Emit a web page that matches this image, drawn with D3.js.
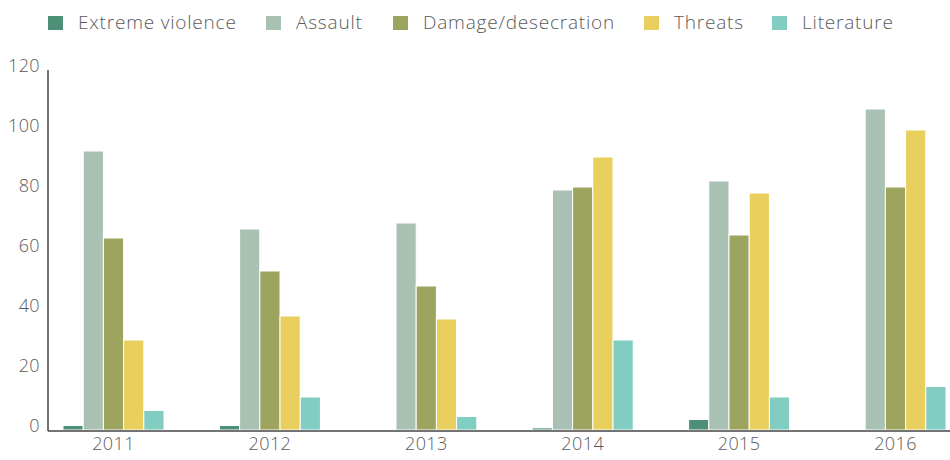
<!DOCTYPE html>
<html>
<head>
<meta charset="utf-8">
<script src="https://cdn.jsdelivr.net/npm/d3@7"></script>
<style>
  body { margin: 0; background: #fff; }
  text { font-family: "Open Sans", Lato, sans-serif; font-weight: 300; fill: #5a5a5a; letter-spacing: 0.4px; }
</style>
</head>
<body>
<script>
var width = 950,
    height = 460;

var years = ["2011", "2012", "2013", "2014", "2015", "2016"];
var series = ["Extreme violence", "Assault", "Damage/desecration", "Threats", "Literature"];
var colors = ["#4d8f77", "#a9c1b3", "#9da45f", "#e9cf5e", "#82cdc1"];

// values per series, one per year
var extremeViolence = [1.5, 1.5, 0, 0.7, 3.5, 0];
var assault = [93, 67, 69, 80, 83, 107];
var damage = [64, 53, 48, 81, 65, 81];
var threats = [30, 38, 37, 91, 79, 100];
var literature = [6.5, 11, 4.5, 30, 11, 14.5];

var yTicks = [0, 20, 40, 60, 80, 100, 120];

var values = [extremeViolence, assault, damage, threats, literature];

var xScale = d3.scaleBand()
    .domain(years)
    .range([63, 946])
    .paddingInner(0.354);

var subScale = d3.scaleBand()
    .domain(d3.range(series.length))
    .range([0, xScale.bandwidth()]);

var yScale = d3.scaleLinear()
    .domain([0, 120])
    .range([430, 70]);

var svg = d3.select("body")
    .append("svg")
    .attr("width", width)
    .attr("height", height);

//Bars
var groups = svg.selectAll("g.year")
    .data(years)
    .enter()
    .append("g")
    .attr("class", "year")
    .attr("transform", function(d) { return "translate(" + xScale(d) + ",0)"; });

groups.selectAll("rect")
    .data(function(d, i) {
        return values.map(function(v, s) { return { s: s, v: v[i] }; });
    })
    .enter()
    .append("rect")
    .attr("x", function(d) { return subScale(d.s); })
    .attr("y", function(d) { return yScale(d.v); })
    .attr("width", subScale.bandwidth())
    .attr("height", function(d) { return yScale(0) - yScale(d.v); })
    .attr("fill", function(d) { return colors[d.s]; })
    .attr("stroke", "#fff")
    .attr("stroke-width", 1)
    .style("display", function(d) { return d.v > 0 ? null : "none"; });

//Y axis
var yAxis = d3.axisLeft(yScale)
    .tickValues(yTicks)
    .tickSize(0)
    .tickPadding(8);

var gy = svg.append("g")
    .attr("transform", "translate(48,0)")
    .call(yAxis);
gy.select(".domain").remove();
gy.selectAll("text")
    .attr("dy", "0.1em")
    .style("font-size", "18px");

svg.append("line")
    .attr("x1", 48).attr("x2", 48)
    .attr("y1", 70).attr("y2", 431)
    .attr("stroke", "#444")
    .attr("stroke-width", 1.5);

//X axis
var xAxis = d3.axisBottom(xScale)
    .tickSize(0)
    .tickPadding(6);

var gx = svg.append("g")
    .attr("transform", "translate(0,431)")
    .call(xAxis);
gx.select(".domain").remove();
gx.selectAll("text")
    .style("font-size", "18px");

svg.append("line")
    .attr("x1", 48).attr("x2", 950)
    .attr("y1", 431).attr("y2", 431)
    .attr("stroke", "#444")
    .attr("stroke-width", 1.5);

//Legend
var legendX = [48, 266, 393, 644, 772];

var legend = svg.selectAll("g.legend")
    .data(series)
    .enter()
    .append("g")
    .attr("class", "legend")
    .attr("transform", function(d, i) { return "translate(" + legendX[i] + ",16)"; });

legend.append("rect")
    .attr("width", 15)
    .attr("height", 14)
    .attr("fill", function(d, i) { return colors[i]; });

legend.append("text")
    .attr("x", 30)
    .attr("y", 13)
    .style("font-size", "19px")
    .style("letter-spacing", "0.8px")
    .text(function(d) { return d; });
</script>
</body>
</html>
